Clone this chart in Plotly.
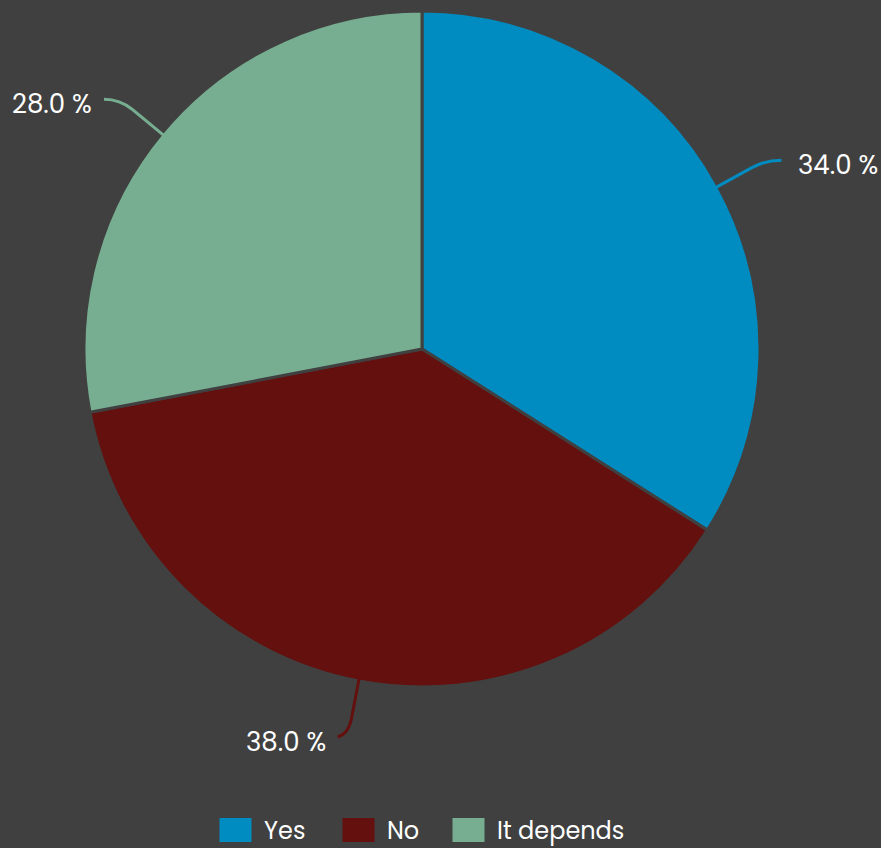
import math
import plotly.graph_objects as go

labels = ["Yes", "No", "It depends"]
values = [34.0, 38.0, 28.0]
colors = ["#008cc1", "#63100e", "#77ae91"]

W, H = 881, 848
BG = "#404040"
cx, cy, R = 422, 349, 338
FONT = "Poppins, Noto Sans, sans-serif"

fig = go.Figure()
fig.add_trace(go.Pie(
    labels=labels, values=values, sort=False, direction="clockwise", rotation=0,
    marker=dict(colors=colors, line=dict(color=BG, width=3)),
    textinfo="none", hoverinfo="label+percent", showlegend=False,
    domain=dict(x=[(cx - R) / W, (cx + R) / W],
                y=[(H - cy - R) / H, (H - cy + R) / H]),
))

shapes = []
annotations = []
total = sum(values)
cum = 0.0
for lab, v, col in zip(labels, values, colors):
    mid = (cum + v / 2) / total * 2 * math.pi
    cum += v
    dx, dy = math.sin(mid), -math.cos(mid)
    x0, y0 = cx + (R - 4) * dx, cy + (R - 4) * dy
    xa, ya = cx + (R + 38) * dx, cy + (R + 38) * dy
    xc, yc = cx + (R + 54) * dx, cy + (R + 54) * dy
    side = 1 if dx >= 0 else -1
    bottom = dy > 0.5
    ext = 11 if bottom else 16
    x2, y2 = xc + side * ext, yc + (3 if bottom else 0)
    shapes.append(dict(type="path", xref="x", yref="y",
                       path=f"M {x0},{y0} L {xa},{ya} Q {xc},{yc} {x2},{y2}",
                       line=dict(color=col, width=3)))
    pct = v / total * 100
    tgap = 14 if side > 0 else 10
    annotations.append(dict(x=x2 + side * tgap, y=y2 + 5, xref="x", yref="y",
                            text=f"{pct:.1f} %", showarrow=False,
                            xanchor="left" if side > 0 else "right", yanchor="middle",
                            font=dict(color="white", size=26, family=FONT)))

# custom legend
char_w = 13.0
sw, sh, gap, spacing = 32, 24, 10, 42
widths = [sw + gap + len(l) * char_w for l in labels]
tot_w = sum(widths) + spacing * (len(labels) - 1)
x = cx - tot_w / 2
ly = 830
for lab, col, w in zip(labels, colors, widths):
    shapes.append(dict(type="rect", xref="x", yref="y", x0=x, x1=x + sw,
                       y0=ly - sh / 2, y1=ly + sh / 2, fillcolor=col, line=dict(width=0)))
    annotations.append(dict(x=x + sw + gap, y=ly, xref="x", yref="y", text=lab,
                            showarrow=False, xanchor="left", yanchor="middle",
                            font=dict(color="white", size=24, family=FONT)))
    x += w + spacing

fig.update_layout(
    width=W, height=H, margin=dict(l=0, r=0, t=0, b=0),
    paper_bgcolor=BG, plot_bgcolor=BG,
    xaxis=dict(range=[0, W], visible=False, fixedrange=True),
    yaxis=dict(range=[H, 0], visible=False, fixedrange=True),
    shapes=shapes, annotations=annotations,
)
fig.write_html("out.html", config={"displayModeBar": False},
               post_script="document.body.style.margin='0';document.body.style.background='#404040';")
